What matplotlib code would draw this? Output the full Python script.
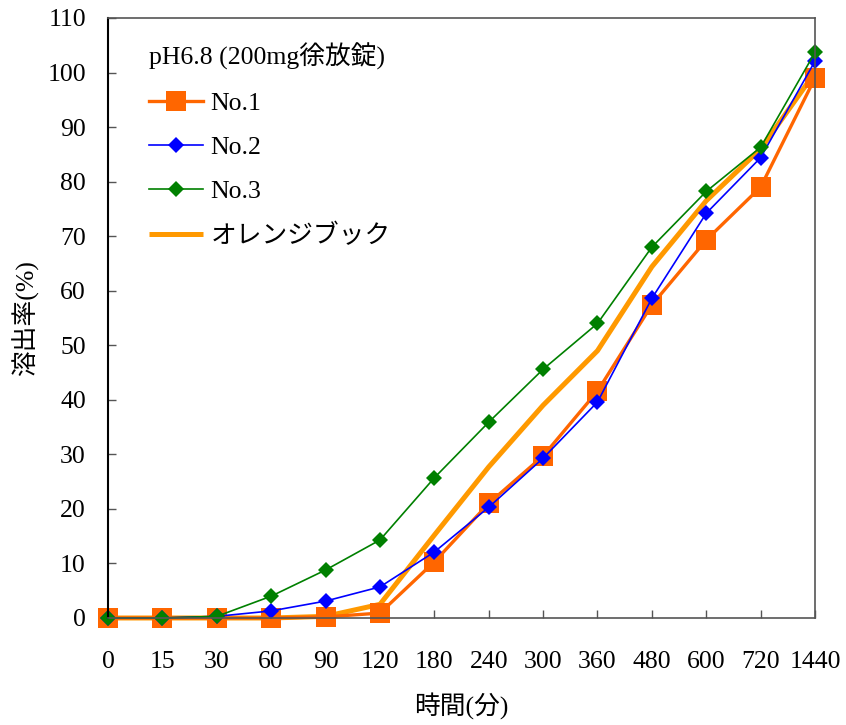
import matplotlib
matplotlib.use("Agg")
import matplotlib.pyplot as plt

plt.rcParams['font.family'] = ['Liberation Serif', 'Noto Sans CJK JP', 'DejaVu Sans']

times = ["0", "15", "30", "60", "90", "120", "180", "240", "300", "360", "480", "600", "720", "1440"]
no1 = [0, 0, 0, 0, 0.2, 0.9, 10.3, 21.0, 29.7, 41.6, 57.4, 69.3, 79.0, 99.0]
no2 = [0, 0, 0.3, 1.3, 3.1, 5.7, 12.1, 20.3, 29.3, 39.6, 58.6, 74.2, 84.4, 102.1]
no3 = [0, 0, 0.3, 4.0, 8.8, 14.3, 25.7, 35.9, 45.6, 54.0, 68.0, 78.2, 86.3, 103.7]
orange_book = [0, 0, 0, 0, 0.3, 2.5, 15.2, 27.7, 39.0, 49.0, 64.4, 76.5, 86.0, 100.0]
title = "pH6.8 (200mg徐放錠)"
labels = ["No.1", "No.2", "No.3", "オレンジブック"]

fig = plt.figure(figsize=(8.46, 7.25), dpi=100)
ax = fig.add_axes([0.1277, 0.1476, 0.9634 - 0.1277, 0.9752 - 0.1476])
x = list(range(len(times)))

h4, = ax.plot(x, orange_book, color='#FF9900', lw=3.6, solid_capstyle='butt',
              zorder=2, clip_on=False)
h1, = ax.plot(x, no1, color='#FF6600', lw=2.4, marker='s', markersize=15,
              markeredgewidth=0, zorder=3, clip_on=False)
h2, = ax.plot(x, no2, color='#0000FF', lw=1.2, marker='D', markersize=8.5,
              markeredgewidth=0, zorder=4, clip_on=False)
h3, = ax.plot(x, no3, color='#008000', lw=1.2, marker='D', markersize=8.5,
              markeredgewidth=0, zorder=5, clip_on=False)

ax.set_xlim(0, len(times) - 1)
ax.set_ylim(0, 110)
ax.set_yticks(range(0, 111, 10))
ax.set_xticks(x)
ax.set_xticklabels(times)
ax.tick_params(direction='in', length=6, width=1, colors='#555555', labelcolor='black',
               labelsize=18.5)
ax.tick_params(axis='y', pad=16)
ax.tick_params(axis='x', pad=24)
for s in ['top', 'right', 'bottom']:
    ax.spines[s].set_color('#555555')
    ax.spines[s].set_linewidth(1.2)
ax.spines['left'].set_color('black')
ax.spines['left'].set_linewidth(1.5)

ax.set_ylabel("溶出率(%)", fontsize=18.5, labelpad=6)
ax.set_xlabel("時間(分)", fontsize=18.5, labelpad=14)

leg = ax.legend([h1, h2, h3, h4], labels, title=title, loc='upper left',
                bbox_to_anchor=(0.043, 0.975), frameon=False, fontsize=18.5,
                title_fontsize=18.5, handlelength=2.1, handletextpad=0.3,
                labelspacing=0.82, alignment='left', borderaxespad=0)
for c in [ax.spines[s] for s in ax.spines]:
    c.set_zorder(6)

fig.savefig("out.png", dpi=100)
